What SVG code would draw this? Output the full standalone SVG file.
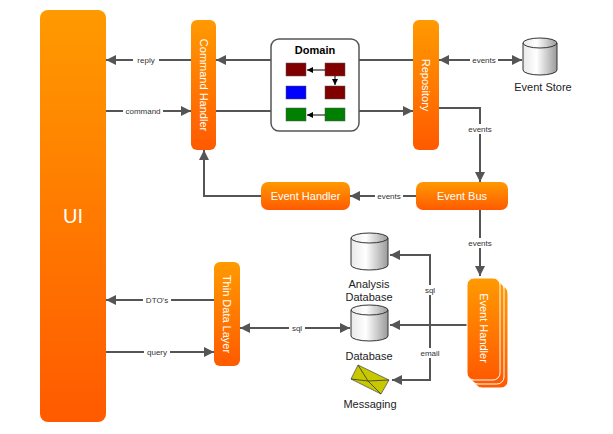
<svg xmlns="http://www.w3.org/2000/svg" width="613" height="434" viewBox="0 0 613 434">
<defs>
<linearGradient id="og" x1="0" y1="0" x2="0" y2="1"><stop offset="0" stop-color="#ff9a00"/><stop offset="1" stop-color="#ff5a00"/></linearGradient>
<linearGradient id="cg" x1="0" y1="0" x2="1" y2="0"><stop offset="0" stop-color="#e8e8e8"/><stop offset="0.4" stop-color="#ffffff"/><stop offset="1" stop-color="#9a9a9a"/></linearGradient>
<marker id="ah" viewBox="0 0 10 10" refX="10" refY="5" markerWidth="10" markerHeight="10" markerUnits="userSpaceOnUse" orient="auto-start-reverse"><path d="M0,0 L10,5 L0,10 z" fill="#555"/></marker>
<marker id="sa" viewBox="0 0 10 10" refX="10" refY="5" markerWidth="6" markerHeight="6" markerUnits="userSpaceOnUse" orient="auto"><path d="M0,0 L10,5 L0,10 z" fill="#000"/></marker>
</defs>
<style>
.o{fill:url(#og);}
.w{fill:#fff;font-family:"Liberation Sans",Arial,sans-serif;font-size:11px;text-anchor:middle;dominant-baseline:central;}
.l{font-family:"Liberation Sans",Arial,sans-serif;font-size:8px;fill:#333;text-anchor:middle;dominant-baseline:central;}
.t{font-family:"Liberation Sans",Arial,sans-serif;font-size:11px;fill:#222;text-anchor:middle;}
.c{fill:none;stroke:#555;stroke-width:2;}
.a{marker-end:url(#ah);}
.b{marker-start:url(#ah);marker-end:url(#ah);}
.bg{fill:#fff;}
.cy{fill:url(#cg);stroke:#333;stroke-width:1;}
</style>
<g id="connectors">
<path class="c a" d="M191,60 H106"/>
<path class="c a" d="M106,111 H191"/>
<path class="c a" d="M271,60 H216"/>
<path class="c" d="M359,60 H413"/>
<path class="c" d="M216,111 H271"/>
<path class="c a" d="M359,111 H413"/>
<path class="c b" d="M439,60 H522"/>
<path class="c a" d="M439,108 H480 V182"/>
<path class="c a" d="M416,196 H350"/>
<path class="c a" d="M261,196 H204 V150"/>
<path class="c a" d="M480,210 V276"/>
<path class="c a" d="M467,325 H390"/>
<path class="c a" d="M430,325 V255 H390"/>
<path class="c a" d="M430,325 V380 H392"/>
<path class="c a" d="M214,300 H106"/>
<path class="c a" d="M106,352 H214"/>
<path class="c b" d="M240,328 H350"/>
<rect class="bg" x="133" y="55" width="26" height="10"/><text class="l" x="146" y="60">reply</text>
<rect class="bg" x="123" y="106" width="40" height="10"/><text class="l" x="143" y="111">command</text>
<rect class="bg" x="470" y="55" width="28" height="10"/><text class="l" x="484" y="60">events</text>
<rect class="bg" x="466" y="124" width="28" height="10"/><text class="l" x="480" y="129">events</text>
<rect class="bg" x="375" y="191" width="28" height="10"/><text class="l" x="389" y="196">events</text>
<rect class="bg" x="466" y="238" width="28" height="10"/><text class="l" x="480" y="243">events</text>
<rect class="bg" x="422" y="285" width="16" height="10"/><text class="l" x="430" y="290">sql</text>
<rect class="bg" x="418" y="348" width="24" height="10"/><text class="l" x="430" y="353">email</text>
<rect class="bg" x="143" y="295" width="28" height="10"/><text class="l" x="157" y="300">DTO's</text>
<rect class="bg" x="144" y="347" width="26" height="10"/><text class="l" x="157" y="352">query</text>
<rect class="bg" x="289" y="323" width="16" height="10"/><text class="l" x="297" y="328">sql</text>
</g>
<g id="ui"><rect class="o" x="40" y="10" width="66" height="412" rx="8"/><text class="w" x="73" y="216" style="font-size:20px">UI</text></g>
<g id="command-handler"><rect class="o" x="191" y="20" width="25" height="130" rx="6"/><text class="w" transform="translate(203.5,85) rotate(90)">Command Handler</text></g>
<g id="domain"><rect x="271" y="39" width="88" height="92" rx="8" fill="#fff" stroke="#555" stroke-width="1.5"/>
<text x="315" y="54" style="font-family:'Liberation Sans',Arial,sans-serif;font-size:11px;font-weight:bold;text-anchor:middle">Domain</text>
<rect x="286" y="63" width="20" height="13" fill="#800000" stroke="#555" stroke-width="0.5"/>
<rect x="325" y="63" width="20" height="13" fill="#800000" stroke="#555" stroke-width="0.5"/>
<rect x="286" y="86" width="20" height="13" fill="#0000ff" stroke="#555" stroke-width="0.5"/>
<rect x="325" y="86" width="20" height="13" fill="#800000" stroke="#555" stroke-width="0.5"/>
<rect x="286" y="108" width="20" height="13" fill="#008000" stroke="#555" stroke-width="0.5"/>
<rect x="325" y="108" width="20" height="13" fill="#008000" stroke="#555" stroke-width="0.5"/>
<path d="M325,70 H307" stroke="#000" marker-end="url(#sa)"/>
<path d="M335,76 V85" stroke="#000" marker-end="url(#sa)"/>
<path d="M325,115 H307" stroke="#000" marker-end="url(#sa)"/>
</g>
<g id="repository"><rect class="o" x="413" y="20" width="26" height="130" rx="6"/><text class="w" transform="translate(426,85) rotate(90)">Repository</text></g>
<g id="event-store"><path class="cy" d="M523,43 V70 A17,5 0 0 0 557,70 V43 A17,5 0 0 0 523,43 A17,5 0 0 0 557,43"/><text class="t" x="543" y="91">Event Store</text></g>
<g id="event-bus"><rect class="o" x="416" y="182" width="92" height="28" rx="7"/><text class="w" x="462" y="196">Event Bus</text></g>
<g id="event-handler-top"><rect class="o" x="261" y="182" width="89" height="28" rx="7"/><text class="w" x="305.5" y="196">Event Handler</text></g>
<g id="event-handler-stack">
<rect class="o" x="475" y="286" width="33" height="102" rx="7" stroke="#fff" stroke-width="1"/>
<rect class="o" x="471" y="282" width="33" height="102" rx="7" stroke="#fff" stroke-width="1"/>
<rect class="o" x="467" y="278" width="33" height="102" rx="7" stroke="#fff" stroke-width="1"/>
<text class="w" transform="translate(483.5,328) rotate(90)">Event Handler</text></g>
<g id="analysis-db"><path class="cy" d="M351,238 V265 A18.5,5 0 0 0 388,265 V238 A18.5,5 0 0 0 351,238 A18.5,5 0 0 0 388,238"/><text class="t" x="369" y="288">Analysis</text><text class="t" x="369" y="301">Database</text></g>
<g id="database"><path class="cy" d="M351,310 V336 A18.5,5 0 0 0 388,336 V310 A18.5,5 0 0 0 351,310 A18.5,5 0 0 0 388,310"/><text class="t" x="369" y="360">Database</text></g>
<g id="messaging"><path d="M358,365 L389,380 L381,394 L351,379 z" fill="#c8c800" stroke="#555" stroke-width="0.8"/><path d="M358,365 L368,381 L389,380 M351,379 L368,381 L381,394" fill="none" stroke="#333" stroke-width="0.8"/><text class="t" x="370" y="408">Messaging</text></g>
<g id="thin-data-layer"><rect class="o" x="214" y="262" width="26" height="104" rx="6"/><text class="w" transform="translate(227,314) rotate(90)">Thin Data Layer</text></g>
</svg>
